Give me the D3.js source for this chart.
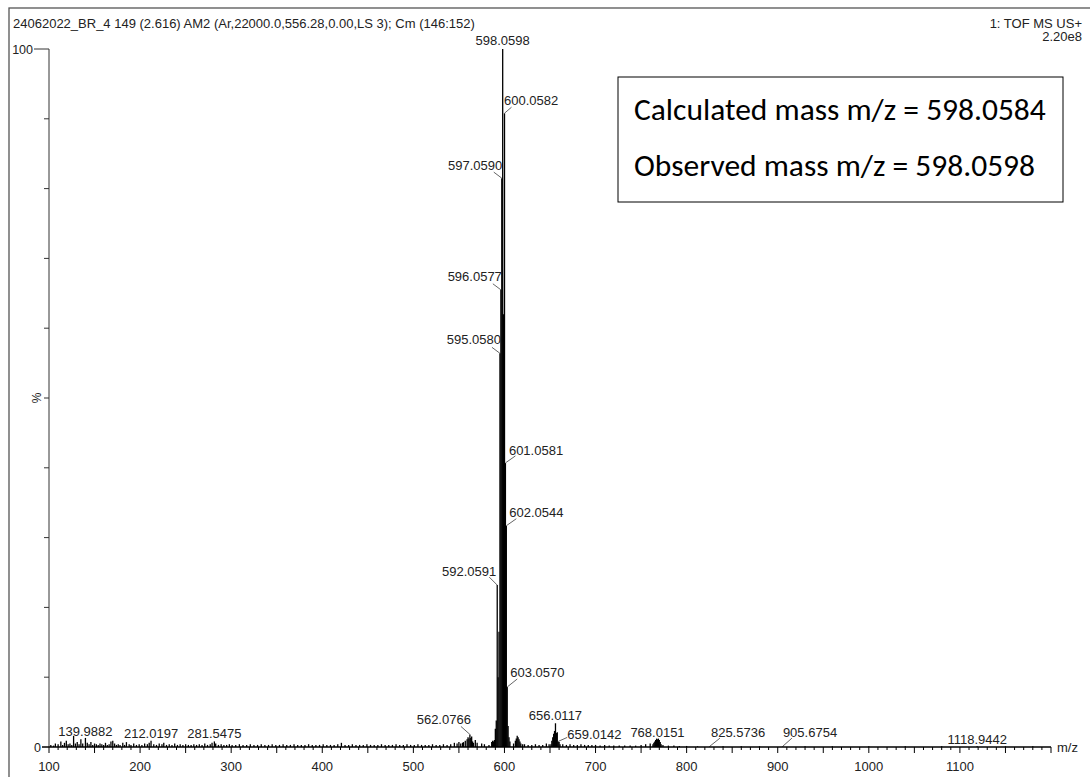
<!DOCTYPE html>
<html>
<head>
<meta charset="utf-8">
<script src="https://cdn.jsdelivr.net/npm/d3@7"></script>
<style>
  body { margin: 0; background: #fff; }
  svg { display: block; }
</style>
</head>
<body>
<svg id="chart" width="1090" height="777"></svg>
<script>
// ---- spectrum data (m/z, relative intensity %) ----
// molecular-ion isotope cluster
const clusterMz  = [589, 590, 591, 592.0591, 593, 594, 595.0580, 596.0577, 597.0590, 598.0598, 599, 600.0582, 601.0581, 602.0544, 603.0570, 604, 605, 606];
const clusterPct = [1.0, 2.6, 3.8, 23.2, 10.0, 16.5, 56.4, 65.5, 81.5, 100, 62.0, 90.8, 40.7, 31.7, 8.6, 3.0, 1.4, 0.8];

// fragment / adduct clusters
const sideMz  = [545, 548, 550, 552, 554, 555, 557, 559, 560, 561, 562.0766, 563, 564, 565, 566, 568, 570, 575, 578, 583, 586, 587, 588,
                 610, 612, 613, 614, 615, 616, 617, 618, 620,
                 651, 652, 653, 654, 655, 656.0117, 657, 658, 659.0142, 660, 661,
                 763, 764, 765, 766, 767, 768.0151, 769, 770, 771, 772, 774];
const sidePct = [0.6, 0.5, 0.7, 0.5, 0.6, 0.7, 0.9, 1.1, 1.4, 1.2, 1.8, 1.3, 1.5, 0.8, 0.6, 1.0, 0.6, 0.5, 0.4, 0.3, 0.7, 0.9, 0.8,
                 0.5, 0.9, 1.2, 1.6, 1.4, 1.1, 0.8, 0.5, 0.4,
                 0.4, 0.9, 1.4, 1.9, 2.3, 3.4, 2.0, 2.1, 0.8, 0.7, 0.4,
                 0.4, 0.6, 0.8, 1.0, 1.2, 1.1, 1.2, 1.0, 0.7, 0.4, 0.3];

// low-level peaks along the baseline
const baseMz  = [102, 105, 107, 110, 113, 115, 117, 119, 121, 123, 125, 127, 129, 131, 133, 135, 137, 139.9882, 142, 144, 146, 148,
                 150, 152, 154, 156, 158, 160, 162, 164, 166, 168, 170, 172, 174, 176, 178, 181, 183, 185, 188, 190, 193, 196, 199,
                 202, 205, 208, 210, 212.0197, 215, 218, 221, 224, 226, 229, 232, 235, 238, 241, 244, 247, 250, 253, 256, 259, 262,
                 265, 268, 271, 274, 277, 279, 281.5475, 283, 286, 289, 292, 295, 298, 301, 305, 309, 313, 317, 321, 325, 329, 333,
                 337, 341, 345, 349, 353, 357, 361, 365, 369, 373, 377, 381, 385, 389, 393, 397, 401, 405, 409, 413, 417, 421, 425,
                 429, 433, 437, 441, 445, 449, 453, 457, 461, 465, 469, 473, 477, 481, 485, 489, 493, 497, 501, 505, 509, 513, 517,
                 521, 525, 529, 533, 537, 541,
                 622, 626, 630, 634, 638, 642, 646, 649, 664, 668, 672, 676, 680, 684, 688, 692, 696, 700, 705, 710, 715, 720, 726,
                 732, 738, 744, 750, 755, 760, 780, 786, 792, 800, 812, 825.5736, 840, 860, 880, 905.6754, 930, 960, 1000, 1040,
                 1080, 1118.9442, 1150, 1180];
const basePct = [0.3, 0.2, 0.5, 0.4, 0.8, 0.3, 0.6, 0.9, 0.4, 0.5, 0.3, 1.6, 0.5, 0.7, 0.4, 1.1, 0.5, 1.3, 0.6, 0.4, 0.7, 0.3,
                 0.5, 0.4, 0.3, 0.5, 0.4, 0.3, 0.6, 0.3, 0.4, 0.8, 0.9, 0.5, 0.3, 0.4, 0.3, 0.6, 0.3, 0.7, 0.4, 0.3, 0.5, 0.3, 0.4,
                 0.3, 0.5, 0.4, 0.6, 0.9, 0.4, 0.3, 0.5, 0.4, 0.6, 0.3, 0.4, 0.3, 0.5, 0.3, 0.4, 0.3, 0.4, 0.3, 0.3, 0.4, 0.3,
                 0.4, 0.3, 0.5, 0.3, 0.4, 0.6, 0.8, 0.5, 0.3, 0.4, 0.3, 0.3, 0.4, 0.3, 0.3, 0.4, 0.3, 0.3, 0.4, 0.3, 0.3, 0.4,
                 0.3, 0.3, 0.4, 0.3, 0.3, 0.4, 0.3, 0.3, 0.4, 0.3, 0.3, 0.3, 0.4, 0.3, 0.3, 0.3, 0.4, 0.3, 0.3, 0.3, 0.4, 0.6, 0.3,
                 0.3, 0.4, 0.3, 0.3, 0.3, 0.4, 0.3, 0.3, 0.3, 0.4, 0.3, 0.3, 0.3, 0.4, 0.3, 0.3, 0.4, 0.3, 0.3, 0.4, 0.3, 0.3, 0.3,
                 0.4, 0.3, 0.3, 0.4, 0.3, 0.4,
                 0.4, 0.3, 0.3, 0.4, 0.3, 0.3, 0.5, 0.4, 0.4, 0.3, 0.4, 0.3, 0.3, 0.4, 0.3, 0.3, 0.3, 0.3, 0.2, 0.3, 0.2, 0.2, 0.2,
                 0.2, 0.2, 0.2, 0.3, 0.4, 0.5, 0.2, 0.2, 0.15, 0.15, 0.1, 0.12, 0.1, 0.1, 0.1, 0.12, 0.1, 0.1, 0.1, 0.1,
                 0.1, 0.1, 0.1, 0.1];

// annotated peaks
const labelMz = [598.0598, 600.0582, 597.0590, 596.0577, 595.0580, 601.0581, 602.0544, 592.0591, 603.0570,
                 562.0766, 656.0117, 659.0142, 768.0151, 825.5736, 905.6754, 1118.9442, 139.9882, 212.0197, 281.5475];

// axis ticks
const xTickLabels = [100, 200, 300, 400, 500, 600, 700, 800, 900, 1000, 1100];
const yTickValues = [0, 10, 20, 30, 40, 50, 60, 70, 80, 90, 100];

// header texts
const runTitle = "24062022_BR_4 149 (2.616) AM2 (Ar,22000.0,556.28,0.00,LS 3); Cm (146:152)";
const scanInfo = ["1: TOF MS US+", "2.20e8"];
const massNotes = ["Calculated mass m/z = 598.0584", "Observed mass m/z = 598.0598"];

// ---- label placement: [dx, dy, anchor, leader dx, leader dy] relative to the peak top ----
const labelLayout = [
  [0, -4, "middle", 0, 0],
  [-0.5, -8, "start", 7, -6],
  [0.5, -8, "end", -8, -6],
  [1, -9, "end", -8, -6],
  [1, -9, "end", -8, -6],
  [3.5, -8, "start", 10, -7],
  [3, -9, "start", 10, -7],
  [-1, -9, "end", -8, -8],
  [3, -10, "start", 10, -8],
  [1, -10, "end", -9, -8],
  [0, -3, "middle", 0, 0],
  [9, -2, "start", 9, -4],
  [0, -2, "middle", 0, 0],
  [1, -9, "start", 10, -8],
  [0, -9, "start", 9, -8],
  [0, -2.5, "middle", 0, 0],
  [0, -2, "middle", 0, 0],
  [0, -3, "middle", 0, 0],
  [0, -3, "middle", 0, 0]
];

// ---- drawing ----
const svg = d3.select("#chart");
const FONT = "'Liberation Sans', Arial, Helvetica, sans-serif";

const x = d3.scaleLinear().domain([100, 1200]).range([49, 1051]);
const y = d3.scaleLinear().domain([0, 100]).range([747, 49]);

// outer frame
svg.append("rect")
  .attr("x", 9).attr("y", 8).attr("width", 1200).attr("height", 900)
  .attr("fill", "none").attr("stroke", "#555").attr("stroke-width", 1.3);

// header
svg.append("text").attr("x", 13).attr("y", 28)
  .attr("font-family", FONT).attr("font-size", 13).attr("fill", "#222")
  .text(runTitle);
svg.selectAll("text.scan").data(scanInfo).join("text")
  .attr("class", "scan")
  .attr("x", 1082).attr("y", (d, i) => 28 + i * 13)
  .attr("text-anchor", "end")
  .attr("font-family", FONT).attr("font-size", 13).attr("fill", "#222")
  .text(d => d);

// combine all peaks
const peaks = [];
clusterMz.forEach((m, i) => peaks.push({ mz: m, pct: clusterPct[i] }));
sideMz.forEach((m, i) => peaks.push({ mz: m, pct: sidePct[i] }));
baseMz.forEach((m, i) => peaks.push({ mz: m, pct: basePct[i] }));
const pctOf = m => peaks.find(p => Math.abs(p.mz - m) < 1e-6).pct;

// y axis
const gy = svg.append("g");
gy.append("line").attr("x1", x(100)).attr("x2", x(100)).attr("y1", y(100)).attr("y2", y(0))
  .attr("stroke", "#333").attr("stroke-width", 1);
gy.selectAll("line.yt").data(yTickValues.filter(v => v > 0 && v < 100)).join("line")
  .attr("class", "yt")
  .attr("x1", x(100) - 5).attr("x2", x(100))
  .attr("y1", d => y(d)).attr("y2", d => y(d))
  .attr("stroke", "#333").attr("stroke-width", 1);
gy.append("line").attr("x1", 34).attr("x2", x(100)).attr("y1", y(100)).attr("y2", y(100))
  .attr("stroke", "#333").attr("stroke-width", 1);
gy.append("text").attr("x", 33).attr("y", y(100) + 4.5).attr("text-anchor", "end")
  .attr("font-family", FONT).attr("font-size", 12.5).attr("fill", "#222").text("100");
gy.append("text").attr("x", 41).attr("y", y(0) + 4.5).attr("text-anchor", "end")
  .attr("font-family", FONT).attr("font-size", 12.5).attr("fill", "#222").text("0");
gy.append("text")
  .attr("transform", `translate(41, ${y(50)}) rotate(-90)`)
  .attr("text-anchor", "middle")
  .attr("font-family", FONT).attr("font-size", 12).attr("fill", "#222").text("%");

// spectrum sticks
svg.append("g").selectAll("line").data(peaks).join("line")
  .attr("x1", d => x(d.mz)).attr("x2", d => x(d.mz))
  .attr("y1", y(0)).attr("y2", d => y(d.pct))
  .attr("stroke", "#000").attr("stroke-width", 1.3);

// x axis
const gx = svg.append("g");
gx.append("line").attr("x1", 42).attr("x2", x(1200)).attr("y1", y(0)).attr("y2", y(0))
  .attr("stroke", "#000").attr("stroke-width", 1.4);
gx.selectAll("line.xt").data(d3.range(100, 1201, 10)).join("line")
  .attr("class", "xt")
  .attr("x1", d => x(d)).attr("x2", d => x(d))
  .attr("y1", y(0)).attr("y2", d => y(0) + (d % 50 === 0 ? 6 : 3))
  .attr("stroke", "#000").attr("stroke-width", 1);
gx.selectAll("text.xl").data(xTickLabels).join("text")
  .attr("class", "xl")
  .attr("x", d => x(d)).attr("y", 771)
  .attr("text-anchor", "middle")
  .attr("font-family", FONT).attr("font-size", 13).attr("fill", "#222")
  .text(d => d);
gx.append("text").attr("x", 1057).attr("y", y(0) + 5)
  .attr("font-family", FONT).attr("font-size", 13).attr("fill", "#222").text("m/z");

// peak annotations
const gl = svg.append("g");
labelMz.forEach((m, i) => {
  const [dx, dy, anchor, ldx, ldy] = labelLayout[i];
  const px = x(m), py = y(pctOf(m));
  if (ldx !== 0 || ldy !== 0) {
    gl.append("line")
      .attr("x1", px).attr("y1", py).attr("x2", px + ldx).attr("y2", py + ldy)
      .attr("stroke", "#666").attr("stroke-width", 1);
  }
  gl.append("text")
    .attr("x", px + dx).attr("y", py + dy)
    .attr("text-anchor", anchor)
    .attr("font-family", FONT).attr("font-size", 13).attr("fill", "#222")
    .text(m.toFixed(4));
});

// mass annotation box
const box = svg.append("g");
box.append("rect").attr("x", 618).attr("y", 77).attr("width", 445).attr("height", 125)
  .attr("fill", "#fff").attr("stroke", "#000").attr("stroke-width", 1);
const notes = box.selectAll("text").data(massNotes).join("text")
  .attr("x", 634).attr("y", (d, i) => 120 + i * 56)
  .attr("font-family", "Carlito, Lato, 'Open Sans', sans-serif")
  .attr("font-size", 23).attr("fill", "#000")
  .text(d => d);
// size the font so the first line spans the box interior
const w0 = notes.node().getComputedTextLength();
const fs = 23 * 412 / w0;
notes.attr("font-size", fs);
</script>
</body>
</html>
